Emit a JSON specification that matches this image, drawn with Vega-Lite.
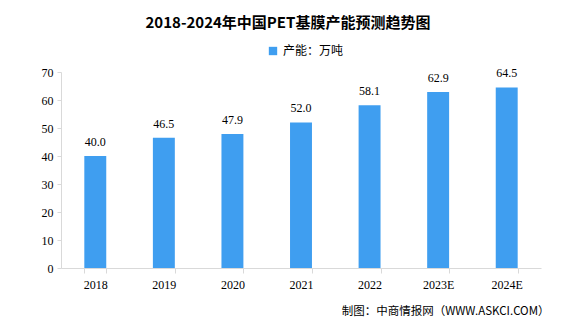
{
  "$schema": "https://vega.github.io/schema/vega-lite/v6.json",
  "width": 480,
  "height": 196,
  "autosize": "none",
  "padding": {"left": 61, "top": 72, "right": 35, "bottom": 59},
  "background": "white",
  "title": {
    "text": "2018-2024年中国PET基膜产能预测趋势图",
    "font": "Noto Sans CJK SC",
    "fontSize": 15,
    "fontWeight": "bold",
    "color": "#000000",
    "anchor": "middle",
    "dx": -13,
    "offset": 14
  },
  "data": {
    "values": [
      {"year": "2018", "value": 40.0, "series": "产能：万吨"},
      {"year": "2019", "value": 46.5, "series": "产能：万吨"},
      {"year": "2020", "value": 47.9, "series": "产能：万吨"},
      {"year": "2021", "value": 52.0, "series": "产能：万吨"},
      {"year": "2022", "value": 58.1, "series": "产能：万吨"},
      {"year": "2023E", "value": 62.9, "series": "产能：万吨"},
      {"year": "2024E", "value": 64.5, "series": "产能：万吨"}
    ]
  },
  "encoding": {
    "x": {
      "field": "year",
      "type": "ordinal",
      "sort": null,
      "scale": {"paddingInner": 0.68, "paddingOuter": 0.34},
      "axis": {
        "title": "制图：中商情报网（WWW.ASKCI.COM）",
        "titleAnchor": "end",
        "titleAlign": "right",
        "titleFont": "Noto Sans CJK SC",
        "titleFontSize": 11.5,
        "titleFontWeight": "normal",
        "titleColor": "#000000",
        "titlePadding": 15,
        "titleX": 488,
        "labelAngle": 0,
        "labelFont": "Liberation Serif",
        "labelFontSize": 12,
        "labelColor": "#000000",
        "labelPadding": 6,
        "domainColor": "#d9d9d9",
        "tickColor": "#d9d9d9",
        "tickBand": "extent",
        "tickSize": 5
      }
    },
    "y": {
      "field": "value",
      "type": "quantitative",
      "scale": {"domain": [0, 70]},
      "axis": {
        "title": null,
        "values": [0, 10, 20, 30, 40, 50, 60, 70],
        "grid": false,
        "labelFont": "Liberation Serif",
        "labelFontSize": 12,
        "labelColor": "#000000",
        "labelPadding": 4,
        "domainColor": "#d9d9d9",
        "tickColor": "#d9d9d9",
        "tickSize": 4
      }
    }
  },
  "layer": [
    {
      "mark": {"type": "bar", "color": "#3F9EF0"},
      "encoding": {
        "color": {
          "field": "series",
          "type": "nominal",
          "scale": {"range": ["#3F9EF0"]},
          "legend": {
            "title": null,
            "orient": "none",
            "legendX": 206,
            "legendY": -27,
            "symbolType": "square",
            "symbolSize": 70,
            "symbolStrokeWidth": 0,
            "labelFont": "Noto Sans CJK SC",
            "labelFontSize": 12,
            "labelColor": "#000000"
          }
        }
      }
    },
    {
      "mark": {
        "type": "text",
        "baseline": "bottom",
        "dy": -7,
        "font": "Liberation Serif",
        "fontSize": 12,
        "color": "#000000"
      },
      "encoding": {
        "text": {"field": "value", "type": "quantitative", "format": ".1f"}
      }
    }
  ],
  "config": {"view": {"stroke": null}}
}
